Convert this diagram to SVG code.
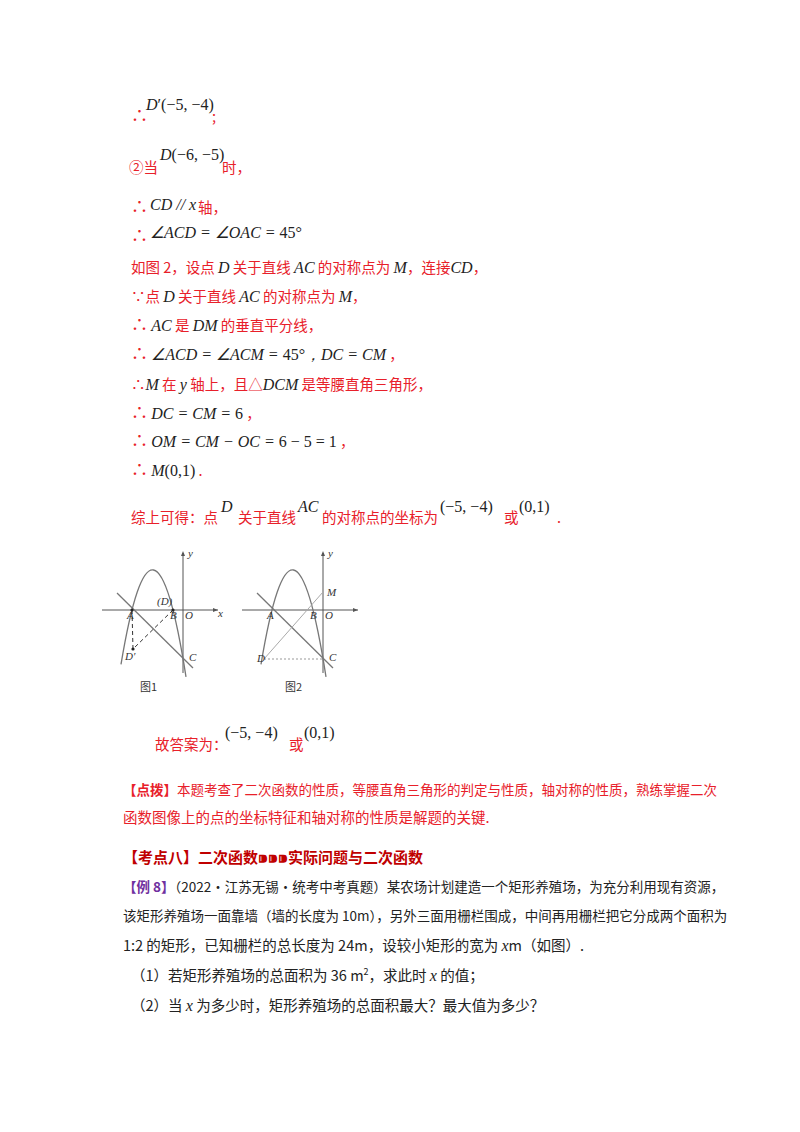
<svg xmlns="http://www.w3.org/2000/svg" width="800" height="1132" viewBox="0 0 800 1132">
<style>
.r{fill:#e8202a;font-family:"Noto Sans CJK SC",sans-serif;font-size:14.5px}
.m{fill:#222;font-family:"Liberation Serif",serif;font-size:16px}
.i{font-style:italic}
.k{fill:#222;font-family:"Noto Sans CJK SC",sans-serif;font-size:14.5px}
.s{font-size:13.5px}
.f{fill:#333;font-family:"Liberation Serif","Noto Sans CJK SC",serif;font-size:11px;font-style:italic}
.ax{stroke:#555;stroke-width:1;fill:none}
.cv{stroke:#777;stroke-width:1.3;fill:none}
.t{font-size:17px}
</style>
<rect width="800" height="1132" fill="#fff"/>
<g id="text">
<text x="131" y="122" class="r t">∴</text><text x="146" y="110" class="m"><tspan class="i">D</tspan>′(−5, −4)</text><text x="212" y="122" class="r">;</text>
<text x="129" y="173" class="r">②当</text><text x="160" y="160" class="m"><tspan class="i">D</tspan>(−6, −5)</text><text x="222" y="173" class="r">时，</text>
<text x="131" y="213" class="r t">∴</text><text x="150" y="210" class="m i">CD // x</text><text x="198" y="213" class="r">轴，</text>
<text x="131" y="242" class="r t">∴</text><text x="150" y="238" class="m i">∠ACD = ∠OAC = <tspan font-style="normal">45°</tspan></text>
<text x="131" y="273" class="r">如图 2，设点 <tspan class="m i">D</tspan> 关于直线 <tspan class="m i">AC</tspan> 的对称点为 <tspan class="m i" fill="#e8202a">M</tspan>，连接<tspan class="m i">CD</tspan>，</text>
<text x="131" y="302" class="r">∵点 <tspan class="m i">D</tspan> 关于直线 <tspan class="m i">AC</tspan> 的对称点为 <tspan class="m i" fill="#e8202a">M</tspan>，</text>
<text x="131" y="331" class="r"><tspan class="t">∴</tspan> <tspan class="m i">AC</tspan> 是 <tspan class="m i">DM</tspan> 的垂直平分线，</text>
<text x="131" y="360" class="r"><tspan class="t">∴</tspan> <tspan class="m i">∠ACD = ∠ACM = <tspan font-style="normal">45°</tspan>，DC = CM</tspan> ，</text>
<text x="131" y="390" class="r">∴<tspan class="m i" fill="#e8202a">M</tspan> 在 <tspan class="m i" fill="#e8202a">y</tspan> 轴上，且△<tspan class="m i" fill="#e8202a">DCM</tspan> 是等腰直角三角形，</text>
<text x="131" y="419" class="r"><tspan class="t">∴</tspan> <tspan class="m i">DC = CM = <tspan font-style="normal">6</tspan></tspan> ，</text>
<text x="131" y="447" class="r"><tspan class="t">∴</tspan> <tspan class="m i">OM = CM − OC = <tspan font-style="normal">6 − 5 = 1</tspan></tspan> ，</text>
<text x="131" y="476" class="r"><tspan class="t">∴</tspan> <tspan class="m i">M<tspan font-style="normal">(0,1)</tspan></tspan> .</text>
<text x="131" y="523" class="r">综上可得：点</text><text x="221" y="512" class="m i">D</text><text x="238" y="523" class="r">关于直线</text><text x="298" y="512" class="m i">AC</text><text x="322" y="523" class="r">的对称点的坐标为</text><text x="440" y="512" class="m">(−5, −4)</text><text x="504" y="523" class="r">或</text><text x="519" y="512" class="m">(0,1)</text><text x="557" y="523" class="r">.</text>
<text x="155" y="750" class="r">故答案为：</text><text x="225" y="738" class="m">(−5, −4)</text><text x="289" y="750" class="r">或</text><text x="304" y="738" class="m">(0,1)</text>
<text x="123" y="795" class="r s"><tspan font-weight="bold">【点拨】</tspan>本题考查了二次函数的性质，等腰直角三角形的判定与性质，轴对称的性质，熟练掌握二次</text>
<text x="123" y="823" class="r">函数图像上的点的坐标特征和轴对称的性质是解题的关键.</text>
<text x="123" y="863" font-family="Noto Sans CJK SC,sans-serif" font-size="15px" font-weight="bold" fill="#c00000">【考点八】二次函数⁍⁍⁍实际问题与二次函数</text>
<text x="123" y="892" class="k s"><tspan fill="#7030a0" font-weight="bold">【例 8】</tspan>（2022·江苏无锡·统考中考真题）某农场计划建造一个矩形养殖场，为充分利用现有资源，</text>
<text x="123" y="921" class="k s">该矩形养殖场一面靠墙（墙的长度为 10m），另外三面用栅栏围成，中间再用栅栏把它分成两个面积为</text>
<text x="123" y="951" class="k">1:2 的矩形，已知栅栏的总长度为 24m，设较小矩形的宽为 <tspan class="m i">x</tspan>m（如图）.</text>
<text x="131" y="981" class="k">（1）若矩形养殖场的总面积为 36 m<tspan font-size="9" dy="-6">2</tspan><tspan dy="6">，求此时 </tspan><tspan class="m i">x</tspan> 的值；</text>
<text x="131" y="1011" class="k">（2）当 <tspan class="m i">x</tspan> 为多少时，矩形养殖场的总面积最大？最大值为多少？</text>
</g>
<g id="fig1">
<line class="ax" x1="102" y1="610" x2="218" y2="610"/><path d="M218 610l-5-2v4z" fill="#555"/>
<line class="ax" x1="183" y1="673" x2="183" y2="553"/><path d="M183 551l-2 5h4z" fill="#555"/>
<path class="cv" d="M121 664.4Q153.5 469.4 186 676.8"/>
<line class="cv" x1="117" y1="593" x2="193" y2="668"/>
<line x1="132" y1="610" x2="133" y2="649" stroke="#333" stroke-dasharray="4,3"/>
<line x1="173" y1="610" x2="133" y2="649" stroke="#333" stroke-dasharray="4,3"/>
<circle cx="132" cy="610" r="1.6" fill="#222"/><circle cx="173" cy="610" r="1.6" fill="#222"/><circle cx="133" cy="649" r="1.6" fill="#222"/>
<text class="f" x="127" y="619">A</text><text class="f" x="157" y="605">(D)</text><text class="f" x="170" y="619">B</text><text class="f" x="185" y="619">O</text><text class="f" x="218" y="617">x</text><text class="f" x="188" y="557">y</text><text class="f" x="125" y="660">D′</text><text class="f" x="189" y="661">C</text>
<text x="140" y="691" font-family="Noto Sans CJK SC,serif" font-size="11" fill="#333">图1</text>
</g>
<g id="fig2">
<line class="ax" x1="242" y1="610" x2="358" y2="610"/><path d="M358 610l-5-2v4z" fill="#555"/>
<line class="ax" x1="323" y1="673" x2="323" y2="553"/><path d="M323 551l-2 5h4z" fill="#555"/>
<path class="cv" d="M261 664.4Q293.5 469.4 326 676.8"/>
<line class="cv" x1="257" y1="593" x2="333" y2="668"/>
<line x1="264" y1="659" x2="323" y2="659" stroke="#999" stroke-dasharray="2,2"/>
<line x1="264" y1="659" x2="323" y2="592" stroke="#aaa"/>
<text class="f" x="267" y="619">A</text><text class="f" x="310" y="619">B</text><text class="f" x="325" y="619">O</text><text class="f" x="327" y="596">M</text><text class="f" x="328" y="557">y</text><text class="f" x="257" y="662">D</text><text class="f" x="329" y="661">C</text>
<text x="285" y="691" font-family="Noto Sans CJK SC,serif" font-size="11" fill="#333">图2</text>
</g>
<g id="connectors"/>
</svg>
